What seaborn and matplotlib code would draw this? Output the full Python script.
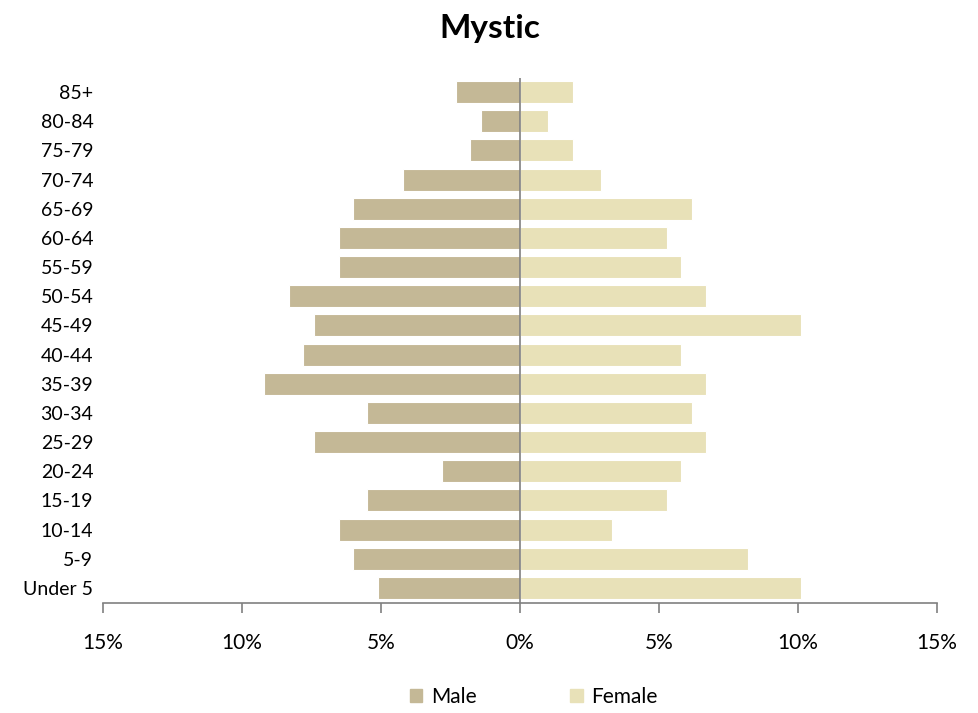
import seaborn as sns
import matplotlib.pyplot as plt
import pandas as pd
from matplotlib.ticker import FuncFormatter
from matplotlib.patches import Patch

ages = ['85+', '80-84', '75-79', '70-74', '65-69', '60-64', '55-59', '50-54', '45-49',
        '40-44', '35-39', '30-34', '25-29', '20-24', '15-19', '10-14', '5-9', 'Under 5']
male = [2.3, 1.4, 1.8, 4.2, 6.0, 6.5, 6.5, 8.3, 7.4, 7.8, 9.2, 5.5, 7.4, 2.8, 5.5, 6.5, 6.0, 5.1]
female = [1.9, 1.0, 1.9, 2.9, 6.2, 5.3, 5.8, 6.7, 10.1, 5.8, 6.7, 6.2, 6.7, 5.8, 5.3, 3.3, 8.2, 10.1]

male_color = '#c4b896'
female_color = '#e8e1b8'

df = pd.concat([
    pd.DataFrame({'age': ages, 'sex': 'Male', 'pct': [-v for v in male]}),
    pd.DataFrame({'age': ages, 'sex': 'Female', 'pct': female}),
])

sns.set_style('white')
plt.rcParams['font.family'] = ['Lato', 'DejaVu Sans']
plt.rcParams['text.color'] = 'black'
plt.rcParams['xtick.color'] = 'black'
plt.rcParams['ytick.color'] = 'black'

fig = plt.figure(figsize=(9.79, 7.13), dpi=100)
ax = fig.add_axes([103 / 979, 1 - 602.5 / 713, 834 / 979, (602.5 - 77.5) / 713])

sns.barplot(data=df, x='pct', y='age', hue='sex', order=ages, dodge=False,
            palette={'Male': male_color, 'Female': female_color}, saturation=1,
            width=0.75, edgecolor='white', linewidth=0.8, legend=False, ax=ax)

ax.set_xlim(-15, 15)
ax.set_ylim(len(ages) - 0.5, -0.5)
ax.set_xticks([-15, -10, -5, 0, 5, 10, 15])
ax.xaxis.set_major_formatter(FuncFormatter(lambda v, p: f'{abs(v):.0f}%'))
ax.axvline(0, color='#808080', lw=1.2, zorder=5)

for s in ['top', 'right', 'left']:
    ax.spines[s].set_visible(False)
ax.spines['bottom'].set_color('#808080')
ax.spines['bottom'].set_linewidth(1.2)
ax.tick_params(axis='x', direction='out', length=7, width=1.2, color='#808080',
               labelcolor='black', labelsize=15, pad=15, bottom=True)
ax.tick_params(axis='y', length=0, labelsize=14, labelcolor='black', pad=7)
ax.set_xlabel('')
ax.set_ylabel('')

fig.suptitle('Mystic', fontsize=24, fontweight='bold', color='black', y=0.98)

handles = [Patch(color=male_color, label='Male'), Patch(color=female_color, label='Female')]
fig.legend(handles=handles, loc='lower center', bbox_to_anchor=(0.545, -0.018), ncol=2,
           frameon=False, fontsize=15, handlelength=0.6, handleheight=0.6,
           handletextpad=0.4, columnspacing=4.5)

fig.savefig('out.png', dpi=100)
